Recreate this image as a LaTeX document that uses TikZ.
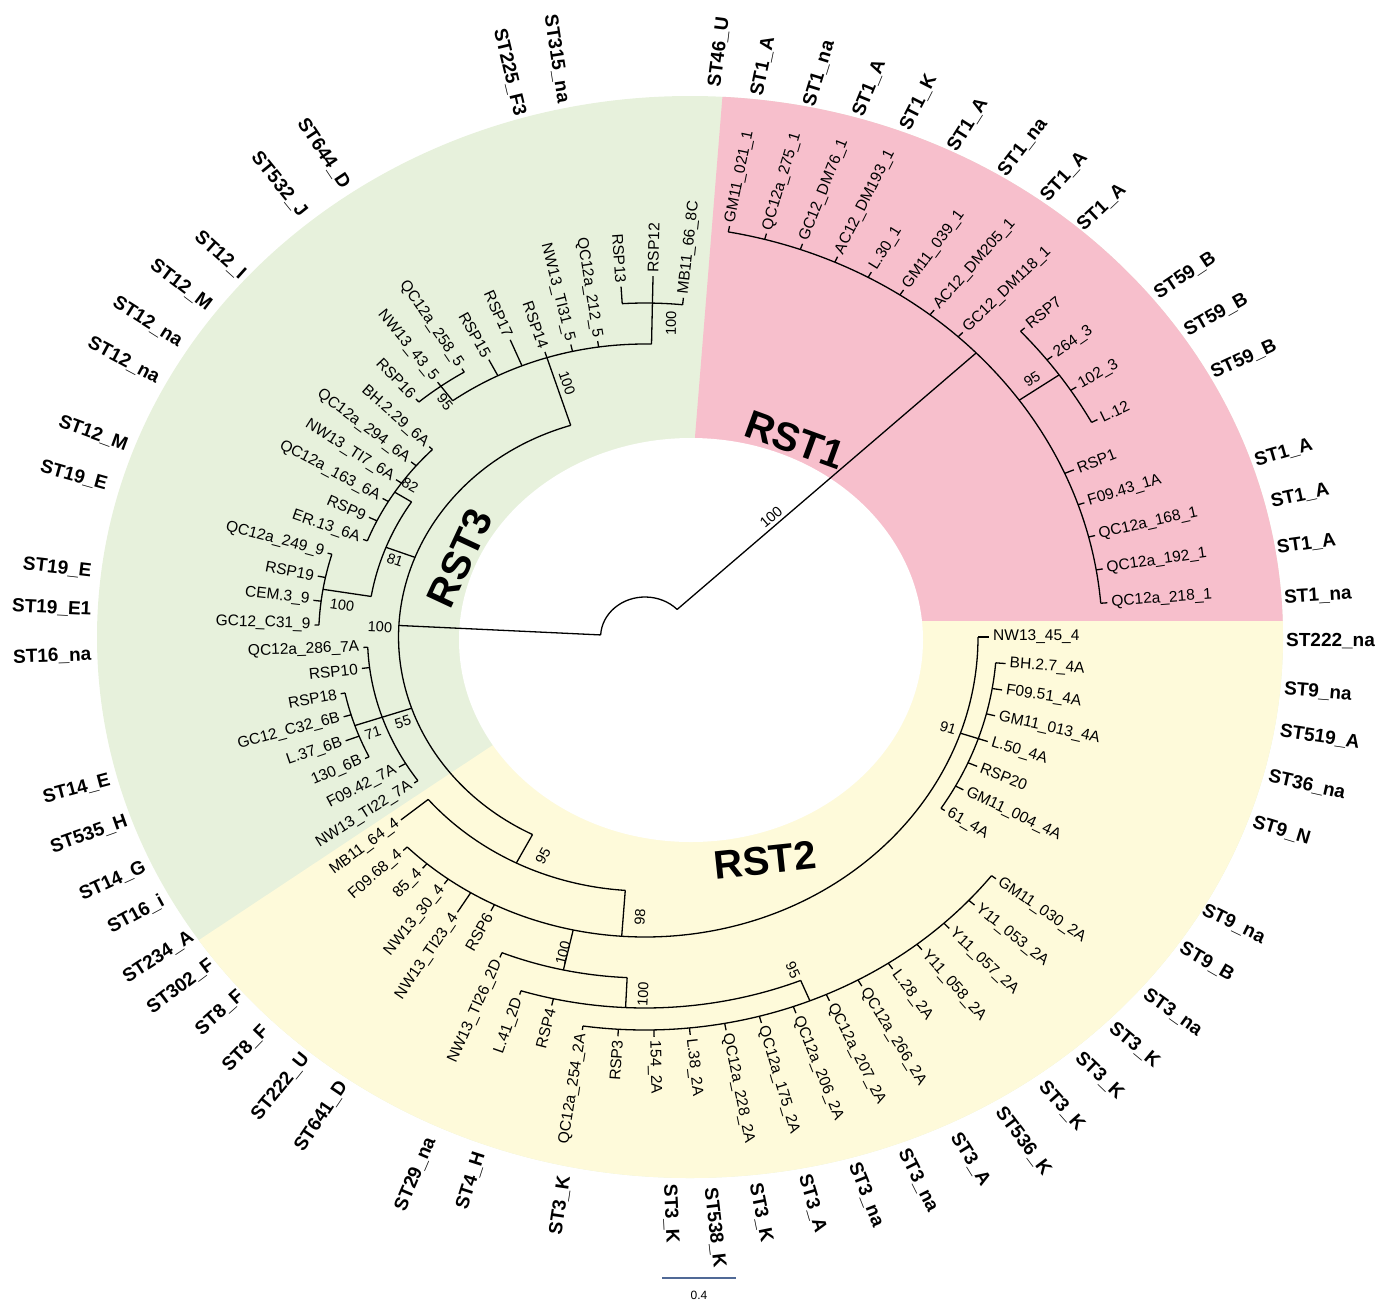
\documentclass[tikz,border=0pt]{standalone}
\usepackage{fontspec}
\setmainfont{Liberation Sans}
\definecolor{pinkbg}{RGB}{247,191,204}
\definecolor{greenbg}{RGB}{231,241,220}
\definecolor{yellowbg}{RGB}{254,250,218}
\definecolor{scalec}{RGB}{80,105,150}
\newcount\outc
\newcommand\tArc[3]{%
 \pgfmathsetmacro\ta{4.7+4.675*(#1)}%
 \pgfmathsetmacro\tb{4.7+4.675*(#2)}%
 \draw[br] (\ta:#3) arc[start angle=\ta,end angle=\tb,radius=#3];}
\newcommand\tStem[3]{%
 \pgfmathsetmacro\ta{4.7+4.675*(#1)}%
 \draw[br] (\ta:#2) -- (\ta:#3);}
\newcommand\tLeaf[4]{%
 \pgfmathsetmacro\ta{4.7+4.675*(#1)}%
 \pgfmathsetmacro\rl{#3+3}%
 \pgfmathsetmacro\vis{atan2(sin(\ta),1.11*cos(\ta))}%
 \pgfmathtruncatemacro\isl{cos(\ta)<0 ? 1 : 0}%
 \draw[br] (\ta:#2) -- (\ta:#3);%
 \ifnum\isl=1
   \pgfmathsetmacro\vis{\vis-180}%
   \node[leaf,anchor=east,rotate=\vis] (lf#1) at (\ta:\rl) {#4};%
 \else
   \node[leaf,anchor=west,rotate=\vis] (lf#1) at (\ta:\rl) {#4};%
 \fi}
\newcommand\tOut[3]{%
 \global\advance\outc by 1
 \pgfmathsetmacro\va{atan2(637-#2,#1-645)}%
 \ifdim #1pt<645pt
   \pgfmathsetmacro\va{\va-180}%
   \node[outl,anchor=east,rotate=\va] (out\the\outc) at (#1,-#2) {#3};%
 \else
   \node[outl,anchor=west,rotate=\va] (out\the\outc) at (#1,-#2) {#3};%
 \fi}
\newcommand\tNL[5]{\node[nlbl,rotate=#3] (#5) at (#1,-#2) {#4};}
\begin{document}
\begin{tikzpicture}[x=1pt,y=1pt,
  br/.style={line width=1.3pt},
  leaf/.style={inner sep=0.6pt,font=\fontsize{15.5}{17}\selectfont},
  outl/.style={inner sep=0pt,font=\fontsize{19}{21}\selectfont\bfseries},
  nlbl/.style={inner sep=0pt,font=\fontsize{14.5}{16}\selectfont},
  rst/.style={inner sep=0pt,font=\fontsize{40}{44}\selectfont\bfseries}]
\useasboundingbox (0,0) rectangle (1393,-1302);
% ---------- background ring ----------
\fill[greenbg] (690,-637) ellipse [x radius=593, y radius=541];
\begin{scope}
\clip (690,-637) ellipse [x radius=593, y radius=541];
\fill[pinkbg] (700,-621) -- (695,-437) -- (727,-40) -- (1400,-40) -- (1400,-621) -- cycle;
\fill[yellowbg] (700,-621) -- (1400,-621) -- (1400,-1302) -- (0,-1302) -- (0,-1072) -- (493,-745) -- cycle;
\end{scope}
\fill[white] (691,-640) ellipse [x radius=232, y radius=202];
% ---------- tree ----------
\begin{scope}[shift={(645,-637)},xscale=1.11]
% root
\tArc{8.32}{36.86}{40}
% RST1
\tStem{8.32}{40}{412}
\tArc{0}{16}{412}
\tLeaf{0}{412}{418}{QC12a\_218\_1}
\tLeaf{1}{412}{418}{QC12a\_192\_1}
\tLeaf{2}{412}{418}{QC12a\_168\_1}
\tLeaf{3}{412}{418}{F09.43\_1A}
\tLeaf{4}{412}{421}{RSP1}
\tStem{6.5}{412}{456}
\tArc{5}{8}{456}
\tLeaf{5}{456}{462}{L.12}
\tLeaf{6}{456}{462}{102\_3}
\tLeaf{7}{456}{462}{264\_3}
\tLeaf{8}{456}{461}{RSP7}
\tLeaf{9}{412}{418}{GC12\_DM118\_1}
\tLeaf{10}{412}{418}{AC12\_DM205\_1}
\tLeaf{11}{412}{418}{GM11\_039\_1}
\tLeaf{12}{412}{418}{L.30\_1}
\tLeaf{13}{412}{418}{AC12\_DM193\_1}
\tLeaf{14}{412}{418}{GC12\_DM76\_1}
\tLeaf{15}{412}{418}{QC12a\_275\_1}
\tLeaf{16}{412}{418}{GM11\_021\_1}
% RST2+RST3
\tStem{36.86}{40}{222}
\tArc{22}{50.94}{222}
% U clade
\tStem{22}{222}{293}
\tArc{18}{26}{293}
\tStem{18}{293}{334}
\tArc{17}{19}{334}
\tLeaf{17}{334}{341}{MB11\_66\_8C}
\tLeaf{18}{334}{361}{RSP12}
\tLeaf{19}{334}{351}{RSP13}
\tLeaf{20}{293}{299}{QC12a\_212\_5}
\tLeaf{21}{293}{300}{NW13\_TI31\_5}
\tLeaf{22}{293}{299}{RSP14}
\tLeaf{23}{293}{321}{RSP17}
\tLeaf{24}{293}{311}{RSP15}
\tStem{26}{293}{311}
\tArc{25}{27}{311}
\tLeaf{25}{311}{315}{QC12a\_258\_5}
\tLeaf{26}{311}{316}{NW13\_43\_5}
\tLeaf{27}{311}{315}{RSP16}
% 81 clade
\tStem{33}{222}{250}
\tArc{30.5}{35.5}{250}
\tStem{30.5}{250}{268}
\tArc{28}{33}{268}
\tLeaf{28}{268}{272}{BH.2.29\_6A}
\tLeaf{29}{268}{274}{QC12a\_294\_6A}
\tLeaf{30}{268}{274}{NW13\_TI7\_6A}
\tLeaf{31}{268}{274}{QC12a\_163\_6A}
\tLeaf{32}{268}{276}{RSP9}
\tLeaf{33}{268}{272}{ER.13\_6A}
\tStem{35.5}{250}{294}
\tArc{34}{37}{294}
\tLeaf{34}{294}{298}{QC12a\_249\_9}
\tLeaf{35}{294}{301}{RSP19}
\tLeaf{36}{294}{301}{CEM.3\_9}
\tLeaf{37}{294}{298}{GC12\_C31\_9}
% 55 clade
\tStem{41.5}{222}{250}
\tArc{38}{45}{250}
\tLeaf{38}{250}{254}{QC12a\_286\_7A}
\tLeaf{39}{250}{257}{RSP10}
\tStem{41.5}{250}{276}
\tArc{40}{43}{276}
\tLeaf{40}{276}{280}{RSP18}
\tLeaf{41}{276}{283}{GC12\_C32\_6B}
\tLeaf{42}{276}{289}{L.37\_6B}
\tLeaf{43}{276}{280}{130\_6B}
\tLeaf{44}{250}{257}{F09.42\_7A}
\tLeaf{45}{250}{254}{NW13\_TI22\_7A}
% RST2
\tStem{50.94}{222}{254}
\tArc{46}{55.89}{254}
\tLeaf{46}{254}{286}{MB11\_64\_4}
\tStem{55.89}{254}{300}
\tArc{47}{76}{300}
\tLeaf{47}{300}{305}{F09.68\_4}
\tLeaf{48}{300}{306}{85\_4}
\tLeaf{49}{300}{306}{NW13\_30\_4}
\tLeaf{50}{300}{323}{NW13\_TI23\_4}
\tLeaf{51}{300}{307}{RSP6}
\tStem{54.085}{300}{341}
\tArc{52}{56.17}{341}
\tLeaf{52}{341}{346}{NW13\_TI26\_2D}
\tStem{56.17}{341}{371}
\tArc{53}{61.5}{371}
\tLeaf{53}{371}{375}{L.41\_2D}
\tLeaf{54}{371}{378}{RSP4}
\tStem{61.5}{371}{393}
\tArc{55}{68}{393}
\tLeaf{55}{393}{397}{QC12a\_254\_2A}
\tLeaf{56}{393}{400}{RSP3}
\tLeaf{57}{393}{400}{154\_2A}
\tLeaf{58}{393}{400}{L.38\_2A}
\tLeaf{59}{393}{400}{QC12a\_228\_2A}
\tLeaf{60}{393}{400}{QC12a\_175\_2A}
\tLeaf{61}{393}{400}{QC12a\_206\_2A}
\tLeaf{62}{393}{400}{QC12a\_207\_2A}
\tLeaf{63}{393}{400}{QC12a\_266\_2A}
\tLeaf{64}{393}{400}{L.28\_2A}
\tLeaf{65}{393}{400}{Y11\_058\_2A}
\tLeaf{66}{393}{400}{Y11\_057\_2A}
\tLeaf{67}{393}{400}{Y11\_053\_2A}
\tLeaf{68}{393}{398}{GM11\_030\_2A}
\tStem{72}{300}{317}
\tArc{69}{75}{317}
\tLeaf{69}{317}{321}{61\_4A}
\tLeaf{70}{317}{325}{GM11\_004\_4A}
\tLeaf{71}{317}{326}{RSP20}
\tLeaf{72}{317}{326}{L.50\_4A}
\tLeaf{73}{317}{325}{GM11\_013\_4A}
\tLeaf{74}{317}{326}{F09.51\_4A}
\tLeaf{75}{317}{326}{BH.2.7\_4A}
\tLeaf{76}{300}{310}{NW13\_45\_4}
\end{scope}
% ---------- support values ----------
\tNL{771}{517}{40.6}{100}{s1}
\tNL{1032}{379}{32}{95}{s2}
\tNL{671}{323}{89}{100}{s3}
\tNL{567}{383}{-70.7}{100}{s4}
\tNL{445}{402}{-50.9}{95}{s5}
\tNL{410}{485}{-30}{82}{s6}
\tNL{395}{560}{-19}{81}{s7}
\tNL{342}{605}{-8.4}{100}{s8}
\tNL{380}{627}{-2.7}{100}{s9}
\tNL{373}{733}{17}{71}{s10}
\tNL{403}{722}{17}{55}{s11}
\tNL{543}{856}{60.4}{95}{s12}
\tNL{640}{917}{85.7}{98}{s13}
\tNL{563}{953}{76.2}{100}{s14}
\tNL{643}{994}{87}{100}{s15}
\tNL{793}{970}{-65.6}{95}{s16}
\tNL{948}{728}{-17}{91}{s17}
% ---------- clade names ----------
\node[rst,rotate=-20] (rst1) at (795,-440) {RST1};
\node[rst,rotate=6] (rst2) at (765,-860) {RST2};
\node[rst,rotate=65] (rst3) at (460,-558) {RST3};
% ---------- outer labels ----------
\tOut{714.7}{87}{ST46\_U}
\tOut{757}{95.5}{ST1\_A}
\tOut{809}{106}{ST1\_na}
\tOut{858}{116}{ST1\_A}
\tOut{905}{129}{ST1\_K}
\tOut{952}{150}{ST1\_A}
\tOut{1002}{174}{ST1\_na}
\tOut{1044}{199}{ST1\_A}
\tOut{1080}{228}{ST1\_A}
\tOut{1156}{295}{ST59\_B}
\tOut{1185.5}{332}{ST59\_B}
\tOut{1212}{374}{ST59\_B}
\tOut{1255}{461}{ST1\_A}
\tOut{1271}{502}{ST1\_A}
\tOut{1277}{548}{ST1\_A}
\tOut{1284}{598}{ST1\_na}
\tOut{1286}{641}{ST222\_na}
\tOut{1284}{689}{ST9\_na}
\tOut{1280}{731}{ST519\_A}
\tOut{1268.5}{776.6}{ST36\_na}
\tOut{1253}{822}{ST9\_N}
\tOut{1203}{909}{ST9\_na}
\tOut{1181}{947}{ST9\_B}
\tOut{1145}{992.5}{ST3\_na}
\tOut{1111.5}{1026}{ST3\_K}
\tOut{1078}{1055}{ST3\_K}
\tOut{1042}{1084}{ST3\_K}
\tOut{999}{1109}{ST536\_K}
\tOut{954.6}{1134}{ST3\_A}
\tOut{903}{1150}{ST3\_na}
\tOut{853.7}{1163}{ST3\_na}
\tOut{804}{1175}{ST3\_A}
\tOut{755}{1183.6}{ST3\_K}
\tOut{710}{1188}{ST538\_K}
\tOut{669.6}{1184}{ST3\_K}
\tOut{564.7}{1176}{ST3\_K}
\tOut{480}{1152.6}{ST4\_H}
\tOut{430.8}{1138}{ST29\_na}
\tOut{343.75}{1083}{ST641\_D}
\tOut{305.8}{1055.6}{ST222\_U}
\tOut{265.6}{1028}{ST8\_F}
\tOut{241}{994}{ST8\_F}
\tOut{212}{963}{ST302\_F}
\tOut{192}{935}{ST234\_A}
\tOut{163}{899.5}{ST16\_i}
\tOut{145}{866}{ST14\_G}
\tOut{127}{821}{ST535\_H}
\tOut{110}{780}{ST14\_E}
\tOut{91.5}{655}{ST16\_na}
\tOut{91.5}{610}{ST19\_E1}
\tOut{91.5}{572}{ST19\_E}
\tOut{107}{485}{ST19\_E}
\tOut{127}{446}{ST12\_M}
\tOut{158.5}{378.8}{ST12\_na}
\tOut{180.8}{343}{ST12\_na}
\tOut{209.8}{307}{ST12\_M}
\tOut{243}{275.7}{ST12\_I}
\tOut{303.6}{214.6}{ST532\_J}
\tOut{346}{187}{ST644\_D}
\tOut{520}{115.7}{ST225\_F3}
\tOut{563.4}{103}{ST315\_na}
% ---------- scale bar ----------
\coordinate (sbA) at (662,-1278);
\coordinate (sbB) at (736,-1278);
\draw[scalec,line width=1.2pt] (sbA) -- (sbB);
\node[inner sep=0pt,font=\fontsize{12}{14}\selectfont] (sblabel) at (699,-1295) {0.4};
\end{tikzpicture}
\end{document}
